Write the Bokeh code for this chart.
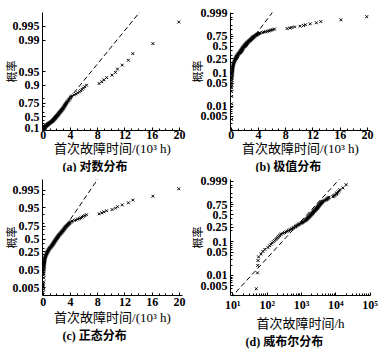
import math
from statistics import NormalDist
from bokeh.plotting import figure
from bokeh.models import Range1d, FixedTicker, Title, ColumnDataSource
from bokeh.layouts import column, row
from bokeh.embed import file_html
from bokeh.resources import INLINE

# ---------------- data ----------------
# first-failure times, 10^3 h
time_kh = [
    0.048, 0.052, 0.053, 0.054, 0.056, 0.066, 0.075, 0.085, 0.105, 0.117,
    0.128, 0.140, 0.152, 0.165, 0.178, 0.190, 0.202, 0.215, 0.228, 0.242,
    0.256, 0.286, 0.320, 0.353, 0.386, 0.420, 0.452, 0.490, 0.525, 0.560,
    0.596, 0.630, 0.667, 0.700, 0.740, 0.773, 0.810, 0.862, 0.910, 0.960,
    1.010, 1.060, 1.110, 1.160, 1.210, 1.260, 1.310, 1.345, 1.380, 1.420,
    1.455, 1.490, 1.530, 1.560, 1.600, 1.635, 1.670, 1.710, 1.745, 1.780,
    1.820, 1.860, 1.900, 1.940, 1.980, 2.020, 2.060, 2.100, 2.140, 2.180,
    2.220, 2.260, 2.300, 2.350, 2.400, 2.455, 2.510, 2.560, 2.610, 2.660,
    2.710, 2.760, 2.810, 2.860, 2.910, 2.960, 3.010, 3.060, 3.100, 3.150,
    3.200, 3.250, 3.300, 3.370, 3.440, 3.520, 3.590, 3.660, 3.730, 3.820,
    3.910, 4.010, 4.100, 4.200, 4.550, 4.800, 5.050, 5.300, 5.500, 5.700,
    5.900, 6.100, 6.350, 8.200, 8.600, 8.900, 9.300, 10.10, 10.60, 10.90,
    11.60, 12.50, 13.15, 16.10, 19.90,
]
# cumulative probability of each point
cum_prob = [
    0.004, 0.012, 0.020, 0.028, 0.036, 0.044, 0.052, 0.060, 0.068, 0.076,
    0.084, 0.092, 0.100, 0.108, 0.116, 0.124, 0.132, 0.140, 0.148, 0.156,
    0.164, 0.172, 0.180, 0.188, 0.196, 0.204, 0.212, 0.220, 0.228, 0.236,
    0.244, 0.252, 0.260, 0.268, 0.276, 0.284, 0.292, 0.300, 0.308, 0.316,
    0.324, 0.332, 0.340, 0.348, 0.356, 0.364, 0.372, 0.380, 0.388, 0.396,
    0.404, 0.412, 0.420, 0.428, 0.436, 0.444, 0.452, 0.460, 0.468, 0.476,
    0.484, 0.492, 0.500, 0.508, 0.516, 0.524, 0.532, 0.540, 0.548, 0.556,
    0.564, 0.572, 0.580, 0.588, 0.596, 0.604, 0.612, 0.620, 0.628, 0.636,
    0.644, 0.652, 0.660, 0.668, 0.676, 0.684, 0.692, 0.700, 0.708, 0.716,
    0.724, 0.732, 0.740, 0.748, 0.756, 0.764, 0.772, 0.780, 0.788, 0.796,
    0.804, 0.812, 0.820, 0.828, 0.836, 0.844, 0.852, 0.860, 0.868, 0.876,
    0.884, 0.892, 0.900, 0.908, 0.916, 0.924, 0.932, 0.940, 0.948, 0.956,
    0.964, 0.972, 0.980, 0.988, 0.996,
]

# fitted reference lines
exp_mean_kh = 2.35
ev_loc_kh, ev_scale_kh = 2.88, 1.57
norm_mu_kh, norm_sigma_kh = 2.0, 1.9
wb_shape, wb_scale_h = 1.13, 2000.0

# ticks / labels
x_ticks_kh = [0, 4, 8, 12, 16, 20]
x_minor_kh = list(range(0, 21))
x_ticks_h = [10.0, 100.0, 1000.0, 10000.0, 100000.0]
x_labels_h = ["10¹", "10²", "10³", "10⁴", "10⁵"]
y_ticks_a = [0.1, 0.5, 0.75, 0.9, 0.95, 0.99, 0.995]
y_ticks_b = [0.005, 0.01, 0.05, 0.1, 0.25, 0.5, 0.75, 0.999]
y_ticks_c = [0.005, 0.05, 0.25, 0.5, 0.75, 0.95, 0.995]
y_ticks_d = [0.005, 0.01, 0.05, 0.1, 0.25, 0.5, 0.75, 0.999]
minor_probs_low = [0.002, 0.003, 0.004, 0.006, 0.007, 0.008, 0.009,
                   0.02, 0.03, 0.04, 0.06, 0.07, 0.08, 0.09]
minor_probs_high = [0.2, 0.3, 0.4, 0.6, 0.7, 0.8, 0.9, 0.95, 0.99, 0.995]

y_title = "概率"
x_title_kh = "首次故障时间/(10³ h)"
x_title_h = "首次故障时间/h"
captions = ["(a) 对数分布", "(b) 极值分布", "(c) 正态分布", "(d) 威布尔分布"]

# ---------------- probability-paper transforms ----------------
_nd = NormalDist()


def tf_exp(p):
    return -math.log(1.0 - p)


def tf_ev(p):
    return math.log(-math.log(1.0 - p))


def tf_norm(p):
    return _nd.inv_cdf(p)


time_h = [t * 1000.0 for t in time_kh]

SERIF = "Liberation Serif"
MIXED = "'Liberation Serif', 'Noto Sans CJK SC'"


def make_fig(width, height, left, right, top, bottom, xr, yr, tf, yticks, yminor,
             xtitle, caption, cap_offset, tick_standoff, title_standoff, cap_standoff,
             ylab_standoff, xlog=False):
    p = figure(width=width, height=height, x_range=xr, y_range=yr,
               x_axis_type="log" if xlog else "linear",
               output_backend="svg", toolbar_location=None,
               min_border_left=left, min_border_right=right,
               min_border_top=top, min_border_bottom=bottom)
    p.grid.visible = False
    p.outline_line_color = None
    p.background_fill_color = "white"
    p.border_fill_color = "white"
    for ax in (p.xaxis[0], p.yaxis[0]):
        ax.axis_line_color = "black"
        ax.axis_line_width = 1
        ax.major_tick_in = 3
        ax.major_tick_out = 0
        ax.minor_tick_in = 2
        ax.minor_tick_out = 0
        ax.major_tick_line_color = "black"
        ax.minor_tick_line_color = "black"
        ax.major_label_text_font = SERIF
        ax.major_label_text_font_style = "bold"
        ax.major_label_text_font_size = "12px"
        ax.major_label_text_color = "black"
        ax.axis_label_text_font = MIXED
        ax.axis_label_text_font_style = "normal"
        ax.axis_label_text_color = "black"
    p.xaxis.major_label_standoff = tick_standoff
    p.yaxis.major_label_standoff = 3
    p.yaxis.axis_label = y_title
    p.yaxis.axis_label_text_font_size = "11px"
    p.yaxis.axis_label_standoff = ylab_standoff
    p.xaxis.axis_label = xtitle
    p.xaxis.axis_label_text_font_size = "13px"
    p.xaxis.axis_label_standoff = title_standoff

    ylo, yhi = yr.start, yr.end
    ymaj = [tf(v) for v in yticks]
    ymin = [tf(v) for v in yminor if ylo <= tf(v) <= yhi]
    p.yaxis.ticker = FixedTicker(ticks=ymaj, minor_ticks=ymin)
    p.yaxis.major_label_overrides = {tf(v): str(v) for v in yticks}
    if xlog:
        minors = [m * d for d in x_ticks_h[:-1] for m in range(2, 10)]
        p.xaxis.ticker = FixedTicker(ticks=x_ticks_h, minor_ticks=minors)
        p.xaxis.major_label_overrides = {v: s for v, s in zip(x_ticks_h, x_labels_h)}
    else:
        p.xaxis.ticker = FixedTicker(ticks=x_ticks_kh, minor_ticks=x_minor_kh)

    p.add_layout(Title(text=caption, align="left", offset=cap_offset,
                       text_font=MIXED, text_font_style="bold",
                       text_font_size="12px", text_color="black",
                       standoff=cap_standoff), "below")
    return p


def pts(p, xs, ys):
    src = ColumnDataSource(data=dict(x=xs, y=ys))
    p.scatter("x", "y", source=src, marker="x", size=4, line_color="black", line_width=1)


DASH = "5 3"
xr_kh = (-0.12, 20.45)
line_t = [x_ticks_kh[0], x_ticks_kh[-1]]

# ---------- (a) exponential paper ----------
pa = make_fig(186, 172, 42, 4, 12, 42, Range1d(*xr_kh), Range1d(-0.01, 6.01),
              tf_exp, y_ticks_a, minor_probs_high, x_title_kh, captions[0], 20,
              0, -1, -2, -8)
pa.line(line_t, [t / exp_mean_kh for t in line_t], line_dash=DASH, line_color="black", line_width=1)
pts(pa, time_kh, [tf_exp(v) for v in cum_prob])

# ---------- (b) extreme value paper ----------
pb = make_fig(201, 172, 44, 17, 12, 42, Range1d(*xr_kh), Range1d(-6.3, 2.0),
              tf_ev, y_ticks_b, minor_probs_low + minor_probs_high, x_title_kh, captions[1], 25,
              0, -1, -2, -6)
pb.line(line_t, [(t - ev_loc_kh) / ev_scale_kh for t in line_t], line_dash=DASH,
        line_color="black", line_width=1)
pts(pb, time_kh, [tf_ev(v) for v in cum_prob])

# ---------- (c) normal paper ----------
pc = make_fig(186, 179, 42, 4, 7, 56, Range1d(*xr_kh), Range1d(-2.98, 3.14),
              tf_norm, y_ticks_c, minor_probs_low + minor_probs_high, x_title_kh, captions[2], 20,
              2, 1, -1, -8)
pc.line(line_t, [(t - norm_mu_kh) / norm_sigma_kh for t in line_t], line_dash=DASH,
        line_color="black", line_width=1)
pts(pc, time_kh, [tf_norm(v) for v in cum_prob])

# ---------- (d) Weibull paper ----------
xr_h = (10 ** 0.93, 10 ** 5.01)
pd_ = make_fig(201, 179, 44, 17, 7, 56, Range1d(*xr_h), Range1d(-5.99, 2.07),
               tf_ev, y_ticks_d, minor_probs_low + minor_probs_high, x_title_h, captions[3], 15,
               2, 1, -1, -6, xlog=True)
line_h = list(xr_h)
pd_.line(line_h, [wb_shape * math.log(t / wb_scale_h) for t in line_h], line_dash=DASH,
         line_color="black", line_width=1)
pts(pd_, time_h, [tf_ev(v) for v in cum_prob])

layout = column(row(pa, pb), row(pc, pd_))
open("out.html", "w").write(file_html(layout, INLINE))
